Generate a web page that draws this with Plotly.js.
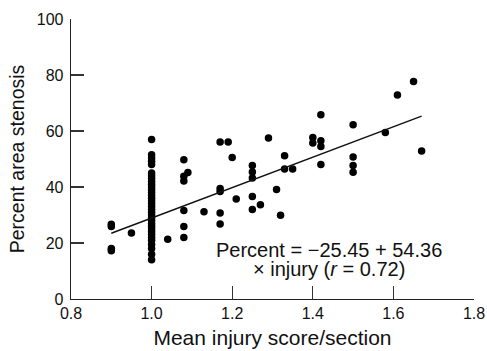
<!DOCTYPE html>
<html>
<head>
<meta charset="utf-8">
<script src="https://cdn.plot.ly/plotly-3.0.1.min.js"></script>
<style>html,body{margin:0;padding:0;background:#fff;}#chart{width:487px;height:351px;}</style>
</head>
<body>
<div id="chart"></div>
<script>
// Mean injury score per section (x) and percent area stenosis (y)
const injuryX = [
  0.9, 0.9, 0.9, 0.9,
  0.95,
  1.0, 1.0, 1.0, 1.0, 1.0, 1.0, 1.0, 1.0, 1.0, 1.0,
  1.0, 1.0, 1.0, 1.0, 1.0, 1.0, 1.0, 1.0, 1.0, 1.0,
  1.0, 1.0, 1.0, 1.0, 1.0, 1.0, 1.0, 1.0, 1.0, 1.0,
  1.0, 1.0, 1.0, 1.0,
  1.04,
  1.08, 1.09, 1.08, 1.08, 1.08, 1.08, 1.08,
  1.13,
  1.17, 1.19, 1.2, 1.17, 1.17, 1.17, 1.17,
  1.21,
  1.25, 1.25, 1.25, 1.25, 1.25,
  1.27,
  1.29,
  1.31, 1.32,
  1.33, 1.33, 1.35,
  1.4, 1.4, 1.42, 1.42, 1.42, 1.42,
  1.5, 1.5, 1.5, 1.5,
  1.58, 1.61, 1.65, 1.67
];
const stenosisY = [
  26.7, 25.9, 18.0, 17.2,
  23.6,
  57.0, 51.5, 50.4, 49.2, 48.0, 45.0, 44.0, 43.0, 42.0, 41.0,
  40.0, 39.0, 38.0, 37.0, 36.0, 35.0, 34.0, 33.0, 32.0, 31.0,
  30.0, 29.0, 28.0, 27.0, 26.0, 25.0, 24.0, 23.0, 22.0, 21.0,
  19.5, 18.0, 16.0, 14.0,
  21.3,
  49.7, 45.2, 43.8, 42.1, 31.6, 25.9, 22.0,
  31.2,
  56.1, 56.1, 50.5, 39.5, 38.4, 30.7, 26.8,
  35.7,
  47.7, 45.4, 43.2, 36.6, 32.0,
  33.7,
  57.5,
  39.1, 29.9,
  51.2, 46.4, 46.4,
  57.7, 55.7, 65.8, 56.5, 54.5, 48.0,
  62.2, 50.7, 47.7, 45.3,
  59.5, 72.9, 77.7, 52.9
];
// Regression: Percent = -25.45 + 54.36 x injury
const fitIntercept = -25.45;
const fitSlope = 54.36;
const fitRangeX = [0.9, 1.67];
const fitY = fitRangeX.map(v => fitIntercept + fitSlope * v);

const xTickVals = [0.8, 1.0, 1.2, 1.4, 1.6, 1.8];
const xTickText = ['0.8', '1.0', '1.2', '1.4', '1.6', '1.8'];
const yTickVals = [0, 20, 40, 60, 80, 100];
const yTickText = ['0', '20', '40', '60', '80', '100'];

const FONT = 'Arial, "Liberation Sans", Helvetica, sans-serif';

const traces = [
  {
    x: injuryX, y: stenosisY, type: 'scatter', mode: 'markers',
    marker: {color: '#000', size: 7.5, line: {width: 0}},
    hoverinfo: 'x+y'
  },
  {
    x: fitRangeX, y: fitY, type: 'scatter', mode: 'lines',
    line: {color: '#111', width: 1.4},
    hoverinfo: 'skip'
  }
];

const axisCommon = {
  showgrid: false, zeroline: false, showline: true,
  linecolor: '#222', linewidth: 1.3,
  ticks: 'inside', ticklen: 13, tickwidth: 1.2, tickcolor: '#333',
  tickfont: {family: FONT, size: 16, color: '#111'}
};

const layout = {
  width: 487, height: 351,
  margin: {l: 71, r: 13, t: 19, b: 52, pad: 0},
  paper_bgcolor: '#fff', plot_bgcolor: '#fff',
  showlegend: false,
  xaxis: Object.assign({}, axisCommon, {
    range: [0.8, 1.8], tickmode: 'array', tickvals: xTickVals, ticktext: xTickText,
    ticklabelstandoff: -1,
    title: {text: 'Mean injury score/section', font: {family: FONT, size: 21, color: '#111'}, standoff: 9}
  }),
  yaxis: Object.assign({}, axisCommon, {
    range: [0, 100], tickmode: 'array', tickvals: yTickVals, ticktext: yTickText,
    ticklabelstandoff: 3,
    title: {text: 'Percent area stenosis', font: {family: FONT, size: 19.5, color: '#111'}, standoff: 7}
  }),
  annotations: [
    {
      xref: 'x', yref: 'y', x: 1.44, y: 17.6, showarrow: false,
      text: 'Percent = \u221225.45 + 54.36',
      font: {family: FONT, size: 20, color: '#111'}, xanchor: 'center', yanchor: 'middle'
    },
    {
      xref: 'x', yref: 'y', x: 1.44, y: 10.6, showarrow: false,
      text: '\u00d7 injury (<i>r</i> = 0.72)',
      font: {family: FONT, size: 20, color: '#111'}, xanchor: 'center', yanchor: 'middle'
    }
  ]
};

Plotly.newPlot('chart', traces, layout, {staticPlot: true, displayModeBar: false});
</script>
</body>
</html>
